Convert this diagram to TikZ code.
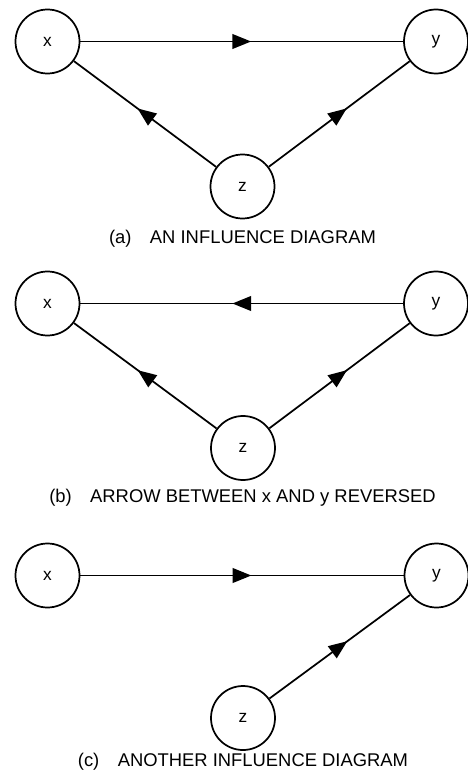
\documentclass[tikz,border=0pt]{standalone}
\usepackage{fontspec}
\setmainfont{Liberation Sans}
\usetikzlibrary{arrows.meta,decorations.markings}

\tikzset{
  var/.style={draw,circle,minimum size=48pt,inner sep=0pt,line width=1.3pt,font=\fontsize{13}{15}\selectfont},
  infl/.style={line width=1.3pt,postaction={decorate},
    decoration={markings,mark=at position 0.5 with {\arrow[xshift=7pt]{Triangle[length=14pt,width=11pt]}}}},
  captext/.style={font=\fontsize{13.8}{16}\selectfont}
}

\begin{document}
\begin{tikzpicture}[x=0.75pt,y=-0.75pt]
  \useasboundingbox (0,0) rectangle (467,780);
  % (a)
  \node[var] (xa) at (47.5,41.5) {x};
  \node[var] (ya) at (436,41.5) {y};
  \node[var] (za) at (242.5,186.5) {z};
  \draw[infl] (xa) -- (ya);
  \draw[infl] (za) -- (xa);
  \draw[infl] (za) -- (ya);
  \node[captext] (capa) at (242.5,239) {(a)\quad AN INFLUENCE DIAGRAM};
  % (b)
  \node[var] (xb) at (47.5,303.5) {x};
  \node[var] (yb) at (436,303.5) {y};
  \node[var] (zb) at (243,448) {z};
  \draw[infl] (yb) -- (xb);
  \draw[infl] (zb) -- (xb);
  \draw[infl] (zb) -- (yb);
  \node[captext] (capb) at (242.5,498) {(b)\quad ARROW BETWEEN x AND y REVERSED};
  % (c)
  \node[var] (xc) at (47.5,575.5) {x};
  \node[var] (yc) at (436.5,575.5) {y};
  \node[var] (zc) at (243,718) {z};
  \draw[infl] (xc) -- (yc);
  \draw[infl] (zc) -- (yc);
  \node[captext] (capc) at (243,762) {(c)\quad ANOTHER INFLUENCE DIAGRAM};
\end{tikzpicture}
\end{document}
